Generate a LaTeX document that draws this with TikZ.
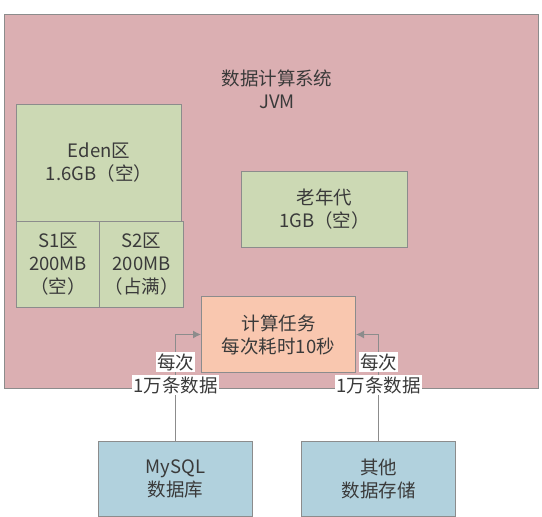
\documentclass[tikz,border=0pt]{standalone}
\usepackage{fontspec}
\setmainfont{Noto Sans CJK SC}
\usetikzlibrary{arrows.meta}
\definecolor{pinkbg}{HTML}{DBAFB2}
\definecolor{greenbg}{HTML}{CCD9B4}
\definecolor{salmon}{HTML}{F9C7AF}
\definecolor{bluebg}{HTML}{B1D1DD}
\definecolor{edge}{HTML}{8C8C8C}
\definecolor{txt}{HTML}{3A3A3A}
\tikzset{
  box/.style={draw=edge, line width=1pt, text=txt, align=center, inner sep=0pt,
    font=\fontsize{18.5}{23}\selectfont, anchor=north west},
  gbox/.style={box, fill=greenbg},
  arr/.style={draw=edge, line width=1.2pt, -{Latex[length=8pt,width=8pt]}},
  lbl/.style={fill=white, text=txt, inner sep=1pt, font=\fontsize{18.5}{22}\selectfont}
}
\begin{document}
\begin{tikzpicture}[x=1pt,y=-1pt]
\useasboundingbox (0,0) rectangle (542,517);
\node[box, fill=pinkbg, minimum width=534pt, minimum height=374pt] (sys) at (4,14) {};
\node[text=txt, align=center, font=\fontsize{18.5}{23}\selectfont] (title) at (277,89) {数据计算系统\\JVM};
\node[gbox, minimum width=165pt, minimum height=117pt] (eden) at (16,104) {Eden区\\1.6GB（空）};
\node[gbox, minimum width=83pt, minimum height=86pt] (s1) at (16,221) {S1区\\200MB\\（空）};
\node[gbox, minimum width=84pt, minimum height=86pt] (s2) at (99,221) {S2区\\200MB\\（占满）};
\node[gbox, minimum width=166pt, minimum height=76pt] (old) at (241,171) {老年代\\1GB（空）};
\node[box, fill=salmon, minimum width=154pt, minimum height=76pt] (task) at (201,296) {计算任务\\每次耗时10秒};
\node[box, fill=bluebg, minimum width=154pt, minimum height=75pt] (mysql) at (98,441) {MySQL\\数据库};
\node[box, fill=bluebg, minimum width=154pt, minimum height=75pt] (other) at (301,441) {其他\\数据存储};
\draw[arr] (mysql.north) |- (task.west);
\draw[arr] (other.north) |- (task.east);
\node[lbl] (l1a) at (mysql.north |- 0,362) {每次};
\node[lbl] (l1b) at (mysql.north |- 0,385) {1万条数据};
\node[lbl] (l2a) at (other.north |- 0,362) {每次};
\node[lbl] (l2b) at (other.north |- 0,385) {1万条数据};
\end{tikzpicture}
\end{document}
